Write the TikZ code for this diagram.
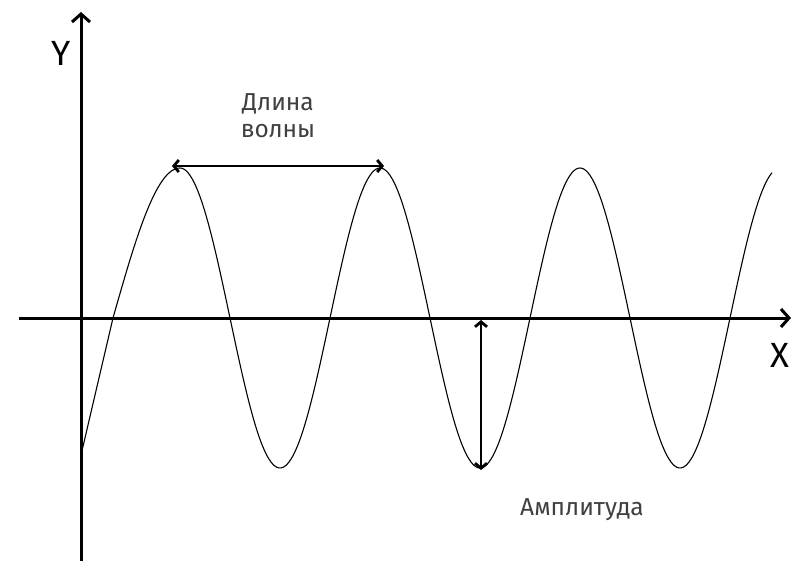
\documentclass[tikz,border=0pt]{standalone}
\usepackage{fontspec}
\setmainfont{Fira Sans}
\usetikzlibrary{arrows.meta}
\definecolor{labelgray}{HTML}{404040}
\begin{document}
\begin{tikzpicture}[x=1pt,y=-1pt,
  axis/.style={line width=3pt,-{Straight Barb[length=8pt,width=18pt]}},
  measure/.style={line width=2.8pt,{Straight Barb[length=5pt,width=12pt]}-{Straight Barb[length=5pt,width=12pt]}},
  wave/.style={line width=1.1pt},
  lbl/.style={text=labelgray,font=\fontsize{24.5}{27}\selectfont,align=center,inner sep=0pt},
  axlbl/.style={text=black,font=\fontsize{35}{40}\selectfont,inner sep=0pt}]
\useasboundingbox (0,0) rectangle (792,561);
\fill[white] (0,0) rectangle (792,561);
% axes
\coordinate (ybot) at (81,575);
\coordinate (ytop) at (81,12);
\coordinate (xleft) at (19,318);
\coordinate (xright) at (791,318);
\draw[axis] (ybot) -- (ytop);
\draw[axis] (xleft) -- (xright);
\node[axlbl] (ylab) at (61,53) {Y};
\node[axlbl] (xlab) at (780,355) {X};
% wave
\draw[wave] (81,455) -- (113,318)
  plot[domain=113:180,samples=40,smooth] (\x,{318-150*sin(90*(\x-113)/67)})
  -- plot[domain=180:772,samples=300,smooth] (\x,{318-150*cos(1.8*(\x-180))});
% wavelength
\coordinate (wl) at (172,166);
\coordinate (wr) at (384,166);
\draw[measure] (wl) -- (wr);
\node[lbl] (wlab) at (278,116) {Длина\\волны};
% amplitude
\coordinate (at) at (481,320);
\coordinate (ab) at (481,470);
\draw[measure] (at) -- (ab);
\node[lbl] (alab) at (582,510) {Амплитуда};
\end{tikzpicture}
\end{document}
